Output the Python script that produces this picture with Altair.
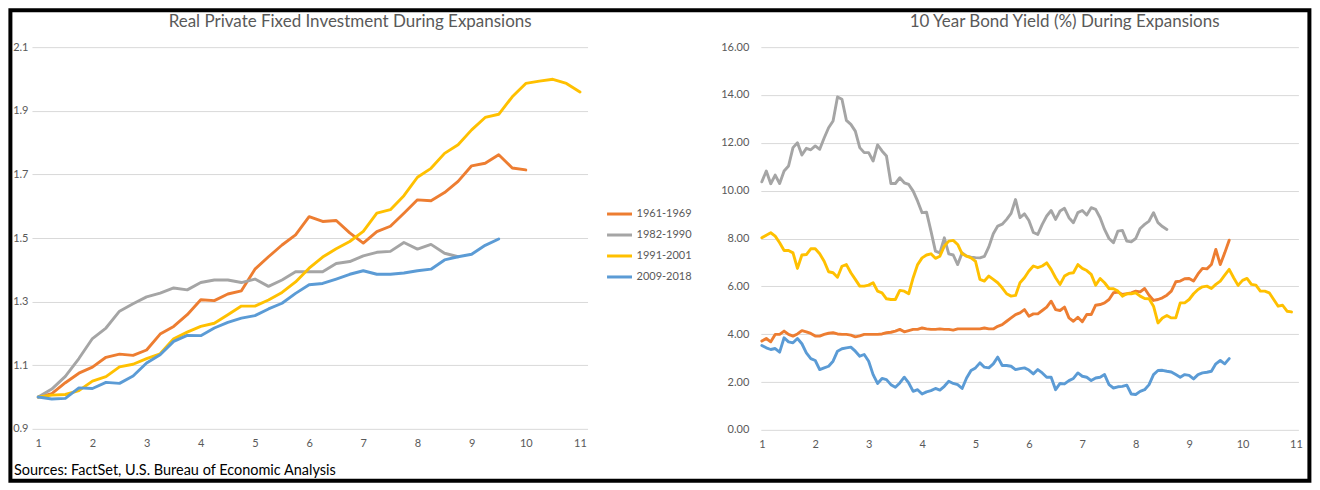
import altair as alt
import pandas as pd

FONT = "Lato"
TXT = "#595959"

series_names = ["1961-1969", "1982-1990", "1991-2001", "2009-2018"]
series_colors = ["#ED7D31", "#A5A5A5", "#FFC000", "#5B9BD5"]

left_title = "Real Private Fixed Investment During Expansions"
right_title = "10 Year Bond Yield (%) During Expansions"
source_note = "Sources: FactSet, U.S. Bureau of Economic Analysis"

x_ticks = list(range(1, 12))
left_y_ticks = [0.9, 1.1, 1.3, 1.5, 1.7, 1.9, 2.1]
right_y_ticks = [0, 2, 4, 6, 8, 10, 12, 14, 16]

# ---- Real private fixed investment (quarterly, indexed to 1 at start) ----
inv_1961 = [1.000, 1.011, 1.045, 1.075, 1.094, 1.125, 1.135, 1.131, 1.148, 1.198, 1.222,
            1.259, 1.306, 1.303, 1.324, 1.334, 1.402, 1.441, 1.478, 1.510, 1.567, 1.552,
            1.555, 1.516, 1.484, 1.520, 1.537, 1.578, 1.620, 1.617, 1.643, 1.678, 1.727,
            1.735, 1.762, 1.720, 1.714]
inv_1982 = [1.000, 1.025, 1.065, 1.121, 1.184, 1.217, 1.270, 1.293, 1.315, 1.327, 1.343,
            1.337, 1.360, 1.368, 1.368, 1.360, 1.371, 1.348, 1.368, 1.394, 1.394, 1.394,
            1.420, 1.426, 1.444, 1.455, 1.458, 1.486, 1.465, 1.480, 1.452, 1.441]
inv_1991 = [1.000, 1.006, 1.008, 1.020, 1.050, 1.064, 1.095, 1.103, 1.121, 1.136, 1.183,
            1.204, 1.222, 1.232, 1.259, 1.286, 1.286, 1.305, 1.329, 1.362, 1.405, 1.440,
            1.466, 1.489, 1.521, 1.578, 1.589, 1.633, 1.691, 1.719, 1.766, 1.793, 1.840,
            1.879, 1.889, 1.944, 1.986, 1.993, 1.999, 1.986, 1.959]
inv_2009 = [1.000, 0.994, 0.996, 1.029, 1.027, 1.046, 1.043, 1.066, 1.107, 1.133, 1.175,
            1.194, 1.193, 1.217, 1.235, 1.248, 1.256, 1.277, 1.295, 1.326, 1.353, 1.357,
            1.371, 1.386, 1.397, 1.386, 1.386, 1.390, 1.397, 1.402, 1.431, 1.441, 1.449,
            1.477, 1.497]

# ---- 10 year bond yield (monthly) ----
yld_1961 = [3.71, 3.82, 3.68, 3.99, 3.99, 4.13, 3.99, 3.92, 4.01, 4.15, 4.10, 4.03, 3.92,
            3.92, 3.99, 4.04, 4.06, 4.01, 3.99, 3.99, 3.96, 3.89, 3.93, 3.99, 3.99, 3.99,
            3.99, 4.01, 4.06, 4.08, 4.13,
            4.20, 4.10, 4.15, 4.20, 4.20, 4.26, 4.22, 4.20, 4.20, 4.22, 4.20, 4.20, 4.17,
            4.22, 4.22, 4.22, 4.22, 4.22, 4.22, 4.26, 4.22, 4.22, 4.33, 4.40, 4.54, 4.68,
            4.82, 4.89, 5.03,
            4.75, 4.85, 4.85, 4.99, 5.13, 5.38, 5.03, 4.99, 5.13, 4.68, 4.54, 4.71, 4.52,
            4.82, 4.82, 5.21, 5.24, 5.31, 5.45, 5.73, 5.76, 5.66, 5.69, 5.73, 5.80, 5.77,
            5.91, 5.63, 5.41, 5.45, 5.52,
            5.63, 5.80, 6.19, 6.22, 6.32, 6.33, 6.22, 6.52, 6.75, 6.73, 6.91, 7.54, 6.91,
            7.40, 7.93]
yld_1982 = [10.37, 10.82, 10.29, 10.65, 10.30, 10.82, 11.03, 11.80, 12.00, 11.49, 11.77,
            11.71, 11.87, 11.73, 12.20, 12.63, 12.91, 13.92, 13.82, 12.94, 12.77, 12.49,
            11.80, 11.59, 11.59, 11.24, 11.91, 11.66, 11.45, 10.30, 10.30,
            10.54, 10.33, 10.26, 9.98, 9.56, 9.08, 9.10, 8.31, 7.47, 7.40, 8.03, 7.36,
            7.31, 6.91, 7.40, 7.26, 7.22, 7.20, 7.19, 7.25, 7.65, 8.20, 8.52, 8.60, 8.80,
            9.05, 9.63, 8.87, 9.03, 8.75,
            8.25, 8.17, 8.59, 8.94, 9.17, 8.80, 9.15, 9.26, 8.87, 8.66, 9.08, 9.17, 8.98,
            9.29, 9.22, 8.87, 8.38, 8.00, 7.82, 8.31, 8.34, 7.89, 7.86, 8.00, 8.42, 8.59,
            8.73, 9.08, 8.66, 8.50, 8.38]
yld_1991 = [8.03, 8.14, 8.24, 8.10, 7.82, 7.50, 7.50, 7.40, 6.75, 7.31, 7.33, 7.57, 7.57,
            7.36, 7.05, 6.61, 6.57, 6.38, 6.84, 6.91, 6.57, 6.29, 6.01, 6.01, 6.05, 6.15,
            5.80, 5.73, 5.48, 5.45, 5.45,
            5.83, 5.80, 5.69, 6.36, 6.91, 7.19, 7.31, 7.36, 7.17, 7.26, 7.68, 7.89, 7.92,
            7.75, 7.36, 7.26, 7.19, 7.05, 6.29, 6.22, 6.43, 6.29, 6.15, 5.94, 5.69, 5.59,
            5.62, 6.15, 6.36, 6.64,
            6.85, 6.78, 6.85, 6.98, 6.71, 6.36, 6.08, 6.43, 6.54, 6.57, 6.91, 6.75, 6.66,
            6.50, 6.05, 6.33, 6.15, 5.91, 5.90, 5.80, 5.59, 5.69, 5.69, 5.73, 5.59, 5.49,
            5.48, 5.17, 4.47, 4.68,
            4.78, 4.68, 4.68, 5.31, 5.31, 5.45, 5.69, 5.87, 5.98, 6.01, 5.91, 6.08, 6.22,
            6.47, 6.71, 6.36, 6.04, 6.25, 6.33, 6.08, 6.05, 5.80, 5.80, 5.73, 5.45, 5.17,
            5.21, 4.96, 4.93]
yld_2009 = [3.53, 3.43, 3.36, 3.40, 3.25, 3.85, 3.68, 3.64, 3.82, 3.60, 3.22, 2.98, 2.90,
            2.52, 2.59, 2.66, 2.87, 3.29, 3.39, 3.43, 3.46, 3.29, 3.08, 3.15, 2.87, 2.31,
            1.94, 2.15, 2.10, 1.89, 1.78,
            1.96, 2.20, 1.96, 1.61, 1.68, 1.50, 1.59, 1.64, 1.73, 1.66, 1.82, 2.03, 1.94,
            1.89, 1.73, 2.17, 2.48, 2.59, 2.80, 2.62, 2.59, 2.76, 3.04, 2.69, 2.69, 2.66,
            2.52, 2.56, 2.59, 2.50,
            2.34, 2.52, 2.38, 2.20, 2.20, 1.68, 1.94, 1.92, 2.06, 2.15, 2.38, 2.24, 2.20,
            2.06, 2.17, 2.20, 2.31, 1.89, 1.75, 1.80, 1.82, 1.87, 1.50, 1.48, 1.61, 1.68,
            1.89, 2.31, 2.48, 2.49,
            2.45, 2.42, 2.31, 2.20, 2.31, 2.28, 2.13, 2.31, 2.38, 2.41, 2.45, 2.76, 2.90,
            2.76, 2.98]


def long_table(arrays, per_year):
    rows = []
    for name, vals in zip(series_names, arrays):
        for i, v in enumerate(vals):
            rows.append({"year": 1 + i / per_year, "value": v, "series": name})
    return pd.DataFrame(rows)


df_inv = long_table([inv_1961, inv_1982, inv_1991, inv_2009], 4)
df_yld = long_table([yld_1961, yld_1982, yld_1991, yld_2009], 12)

LW, LH = 556, 382
RW, RH = 538, 383

line_kw = dict(strokeWidth=2.9, strokeJoin="round", strokeCap="round")

x_axis = dict(values=x_ticks, format="d", grid=False, title=None, labelPadding=9,
              domain=False, ticks=False)

left_lines = alt.Chart(df_inv).mark_line(**line_kw).encode(
    x=alt.X("year:Q", scale=alt.Scale(domain=[0.884, 11.14], nice=False, zero=False),
            axis=alt.Axis(**x_axis)),
    y=alt.Y("value:Q", scale=alt.Scale(domain=[0.9, 2.1], nice=False, zero=False),
            axis=alt.Axis(values=left_y_ticks, format=".1f", title=None, labelPadding=4,
                          domain=False, ticks=False)),
    color=alt.Color("series:N", scale=alt.Scale(domain=series_names, range=series_colors),
                    legend=alt.Legend(title=None, orient="none", legendX=574, legendY=153,
                                      symbolType="stroke", symbolSize=625,
                                      symbolStrokeWidth=3, labelFontSize=11,
                                      labelColor=TXT, labelFont=FONT, rowPadding=1,
                                      labelOffset=3)),
)

labels = pd.DataFrame({"left": [left_title], "right": [right_title], "note": [source_note]})

frame = alt.Chart(labels).mark_rect(fillOpacity=0, stroke="black", strokeWidth=4).encode(
    x=alt.value(-21.6), x2=alt.value(1278.4), y=alt.value(-37), y2=alt.value(434),
)
note = alt.Chart(labels).mark_text(align="left", baseline="middle", font=FONT,
                                   fontSize=14.5, color="black").encode(
    text="note:N", x=alt.value(-18), y=alt.value(424),
)
left_head = alt.Chart(labels).mark_text(align="center", baseline="alphabetic", font=FONT,
                                        fontSize=17, color=TXT).encode(
    text="left:N", x=alt.value(318.4), y=alt.value(-20.3),
)

left = alt.layer(left_lines, frame, note, left_head).properties(width=LW, height=LH)

right_lines = alt.Chart(df_yld).mark_line(**line_kw).encode(
    x=alt.X("year:Q", scale=alt.Scale(domain=[0.981, 11.046], nice=False, zero=False),
            axis=alt.Axis(**x_axis)),
    y=alt.Y("value:Q", scale=alt.Scale(domain=[0, 16], nice=False, zero=False),
            axis=alt.Axis(values=right_y_ticks, format=".2f", title=None, labelPadding=12,
                          domain=False, ticks=False)),
    color=alt.Color("series:N", scale=alt.Scale(domain=series_names, range=series_colors),
                    legend=None),
)
right_head = alt.Chart(labels).mark_text(align="center", baseline="alphabetic", font=FONT,
                                         fontSize=17, color=TXT).encode(
    text="right:N", x=alt.value(304), y=alt.value(-20.3),
)
right = alt.layer(right_lines, right_head).properties(width=RW, height=RH)

chart = alt.hconcat(left, right, spacing=173.4, bounds="flush").resolve_scale(
    color="independent"
).properties(padding=0, background="white").configure_view(stroke=None).configure_axis(
    labelFont=FONT, labelFontSize=11, labelColor=TXT, gridColor="#D9D9D9", gridWidth=1
)

chart.save("out.html", embed_options={"renderer": "svg", "actions": False})
